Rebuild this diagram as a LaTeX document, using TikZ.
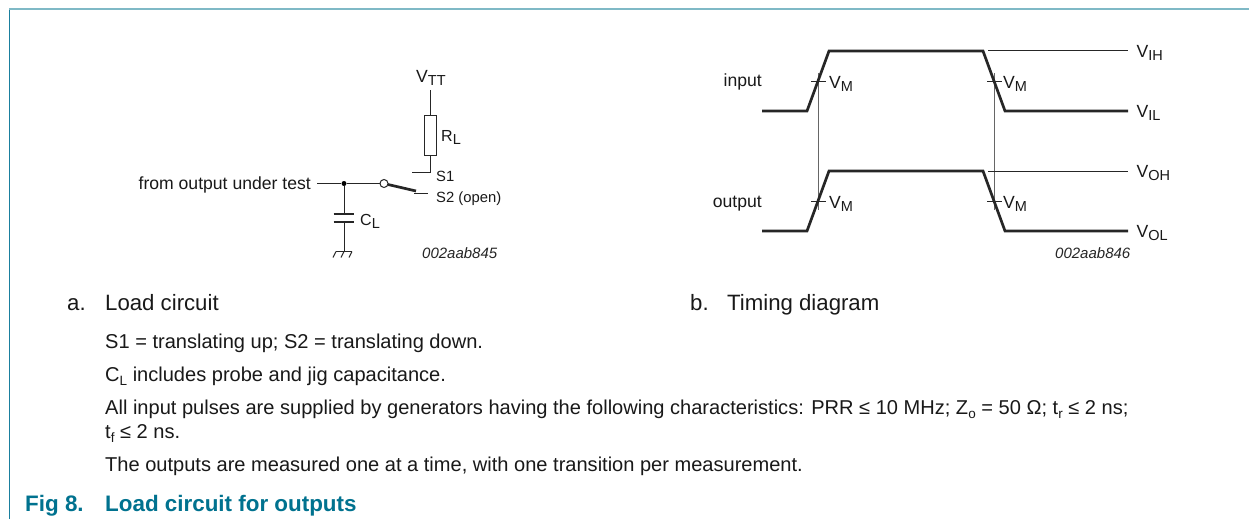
\documentclass[tikz,border=0pt]{standalone}
\usepackage{fontspec}
\setmainfont{Liberation Sans}
\definecolor{frametop}{HTML}{7FB9C6}
\definecolor{frameleft}{HTML}{1A7F9E}
\definecolor{figc}{HTML}{00728F}
\tikzset{
 thin wire/.style={line width=1pt,black!85},
 thick wire/.style={line width=2.7pt,black!85,line join=miter},
 guide/.style={line width=1pt,black!60},
 lab/.style={inner sep=0pt,font=\fontsize{17.6}{20}\selectfont,text=black!90},
 complab/.style={inner sep=0pt,font=\fontsize{16}{20}\selectfont,text=black!90},
 smalllab/.style={inner sep=0pt,font=\fontsize{14.8}{18}\selectfont,text=black!90},
 code/.style={inner sep=0pt,font=\fontsize{15}{18}\itshape\selectfont,text=black!85},
 body/.style={anchor=base west,inner sep=0pt,font=\fontsize{22.2}{26}\selectfont,text=black!90},
 note/.style={anchor=base west,inner sep=0pt,font=\fontsize{20.05}{24}\selectfont,text=black!90},
 figcap/.style={anchor=base west,inner sep=0pt,font=\fontsize{22.4}{26}\bfseries\selectfont,text=figc},
}
\newcommand{\Vsub}[2]{#1\raisebox{-0.2em}{\fontsize{14.5}{17}\selectfont #2}}
\newcommand{\dn}[1]{\raisebox{-0.2em}{\fontsize{13.5}{15}\selectfont #1}}
\begin{document}
\begin{tikzpicture}[x=1pt,y=-1pt]
\useasboundingbox (0,0) rectangle (1249,519);
\fill[white] (0,0) rectangle (1249,519);
\coordinate (fa) at (9,519);
\coordinate (fb) at (9,9);
\coordinate (fc) at (1249,9);
\draw[frameleft,line width=1pt] (fa) -- (fb);
\draw[frametop,line width=1.8pt] (fb) -- (fc);
% load circuit
\node[lab,anchor=base west] (vtt) at (416,82) {\Vsub{V}{TT}};
\coordinate (vt) at (430,90);
\node[draw,thin wire,minimum width=12pt,minimum height=40pt,inner sep=0pt] (rl) at (430.3,135.7) {};
\coordinate (s1c) at (430,172.7);
\coordinate (s1l) at (411.7,172.7);
\draw[thin wire] (vt) -- (rl.north -| vt);
\draw[thin wire] (rl.south -| vt) -- (s1c) -- (s1l);
\node[complab,anchor=base west] (rll) at (441,141) {\Vsub{R}{L}};
\node[smalllab,anchor=base west] (s1) at (436,181) {S1};
\node[smalllab,anchor=base west] (s2) at (436,202) {S2 (open)};
\node[lab,anchor=base east] (from) at (311,189) {from output under test};
\coordinate (ls) at (317,183.5);
\node[circle,fill=black,minimum size=5pt,inner sep=0pt] (dot) at (344,183.5) {};
\node[circle,draw,thin wire,fill=white,minimum size=8pt,inner sep=0pt] (sw) at (384,183.5) {};
\draw[thin wire] (ls) -- (dot) -- (sw);
\coordinate (swe) at (416,191);
\coordinate (s2a) at (414,193);
\coordinate (s2b) at (428,193);
\draw[line width=2.7pt,black!85] (sw) ++(4,1) -- (swe);
\draw[thin wire] (s2a) -- (s2b);
\coordinate (c1a) at (333.5,214);\coordinate (c1b) at (353.5,214);
\coordinate (c2a) at (333.5,222);\coordinate (c2b) at (353.5,222);
\draw[line width=2.7pt,black!85] (c1a) -- (c1b);
\draw[line width=2.7pt,black!85] (c2a) -- (c2b);
\coordinate (ct) at (344,214);\coordinate (cb) at (344,222);
\coordinate (gnd) at (344,251.5);
\draw[thin wire] (dot) -- (ct);
\draw[thin wire] (cb) -- (gnd);
\draw[thin wire] (336,251.5) -- (352,251.5);
\draw[thin wire] (336,251.5) -- (333,257.5);
\draw[thin wire] (344,251.5) -- (341,257.5);
\draw[thin wire] (352,251.5) -- (349,257.5);
\node[complab,anchor=base west] (cl) at (360,225) {\Vsub{C}{L}};
\node[code,anchor=base west] (c845) at (422,258) {002aab845};
% timing
\draw[guide] (818,73) -- (818,210);
\draw[guide] (994,73) -- (994,210);
\coordinate (i0) at (762,111);\coordinate (i1) at (807,111);\coordinate (i2) at (829,51);
\coordinate (i3) at (983,51);\coordinate (i4) at (1005,111);\coordinate (i5) at (1128,111);
\draw[thick wire] (i0) -- (i1) -- (i2) -- (i3) -- (i4) -- (i5);
\coordinate (o0) at (762,231);\coordinate (o1) at (807,231);\coordinate (o2) at (829,171);
\coordinate (o3) at (983,171);\coordinate (o4) at (1005,231);\coordinate (o5) at (1128,231);
\draw[thick wire] (o0) -- (o1) -- (o2) -- (o3) -- (o4) -- (o5);
\coordinate (ih) at (988,51);\coordinate (ihe) at (1128,51);
\coordinate (oh) at (988,171);\coordinate (ohe) at (1128,171);
\draw[thin wire] (ih) -- (ihe);
\draw[thin wire] (oh) -- (ohe);
\foreach \x/\y in {811/81,987/81,811/201,987/201}{
 \draw[thin wire] (\x,\y) -- ++(15,0);
}
\node[lab,anchor=base east] (inp) at (762,86) {input};
\node[lab,anchor=base east] (outp) at (762,207) {output};
\foreach \n/\x/\y in {a/829/88,b/1003/88,c/829/208,d/1003/208}{
 \node[lab,anchor=base west] (vm\n) at (\x,\y) {\Vsub{V}{M}};
}
\node[lab,anchor=base west] (vih) at (1136.5,57) {\Vsub{V}{IH}};
\node[lab,anchor=base west] (vil) at (1136.5,117) {\Vsub{V}{IL}};
\node[lab,anchor=base west] (voh) at (1136.5,177) {\Vsub{V}{OH}};
\node[lab,anchor=base west] (vol) at (1136.5,237) {\Vsub{V}{OL}};
\node[code,anchor=base west] (c846) at (1055,258) {002aab846};
% captions
\node[body] (ca) at (67,310) {a.};
\node[body] (cat) at (105,310) {Load circuit};
\node[body] (cb2) at (690,310) {b.};
\node[body] (cbt) at (727,310) {Timing diagram};
\node[note] (n1) at (105,348) {S1 = translating up; S2 = translating down.};
\node[note] (n2) at (105,381) {C\dn{L} includes probe and jig capacitance.};
\node[note] (n3a) at (105,414) {All input pulses are supplied by generators having the following characteristics: PRR ≤ 10 MHz; Z\dn{o} = 50 Ω; t\dn{r} ≤ 2 ns;};
\node[note] (n3c) at (105,438) {t\dn{f} ≤ 2 ns.};
\node[note] (n4) at (105,471) {The outputs are measured one at a time, with one transition per measurement.};
\node[figcap] (fig) at (25,511) {Fig 8.};
\node[figcap] (figt) at (105,511) {Load circuit for outputs};
\end{tikzpicture}
\end{document}
